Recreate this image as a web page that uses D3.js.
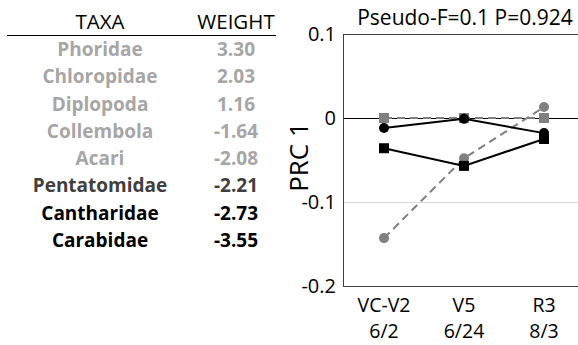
<!DOCTYPE html>
<html>
<head>
<meta charset="utf-8">
<script src="https://cdn.jsdelivr.net/npm/d3@7"></script>
<style>
  body { margin: 0; background: #fff; }
  svg { font-family: "Open Sans", sans-serif; }
</style>
</head>
<body>
<svg id="chart" width="578" height="345"></svg>
<script>
const width = 578;
const height = 345;

// table data
const taxa = ["Phoridae", "Chloropidae", "Diplopoda", "Collembola", "Acari", "Pentatomidae", "Cantharidae", "Carabidae"];
const weights = ["3.30", "2.03", "1.16", "-1.64", "-2.08", "-2.21", "-2.73", "-3.55"];
const rowColors = ["#a6a6a6", "#a6a6a6", "#a6a6a6", "#a6a6a6", "#a6a6a6", "#404040", "#000000", "#000000"];

// PRC data
const stages = ["VC-V2", "V5", "R3"];
const dates = ["6/2", "6/24", "8/3"];
const yTicks = [0.1, 0, -0.1, -0.2];
const graySquare = [0, 0, 0];
const grayCircle = [-0.143, -0.048, 0.013];
const blackCircle = [-0.012, -0.001, -0.018];
const blackSquare = [-0.036, -0.057, -0.025];

const series = [
  { values: graySquare, color: "#808080", dash: "8,5", shape: "square" },
  { values: grayCircle, color: "#808080", dash: "8,5", shape: "circle" },
  { values: blackSquare, color: "#000000", dash: null, shape: "square" },
  { values: blackCircle, color: "#000000", dash: null, shape: "circle" }
];

const margin = { top: 34, bottom: 59, left: 344, right: -6 };

const svg = d3.select("svg#chart");

/* TABLE */
const table = svg.append("g").attr("id", "table");
const nameX = 100;
const weightX = 236;

table.append("text").attr("x", nameX).attr("y", 29)
  .attr("text-anchor", "middle").attr("font-size", 20.5).text("TAXA");
table.append("text").attr("x", weightX).attr("y", 29)
  .attr("text-anchor", "middle").attr("font-size", 20.5).text("WEIGHT");
table.append("line")
  .attr("x1", 7).attr("x2", 276).attr("y1", 35.5).attr("y2", 35.5)
  .attr("stroke", "#000").attr("stroke-width", 1);

const rowY = d3.scalePoint().domain(taxa).range([56, 247]);

const rows = table.selectAll("g.row")
  .data(taxa)
  .enter()
  .append("g")
  .attr("class", "row")
  .attr("font-weight", "bold")
  .attr("font-size", 19)
  .attr("fill", (d, i) => rowColors[i]);

rows.append("text")
  .attr("x", nameX)
  .attr("y", d => rowY(d))
  .attr("text-anchor", "middle")
  .text(d => d);

rows.append("text")
  .attr("x", weightX)
  .attr("y", d => rowY(d))
  .attr("text-anchor", "middle")
  .text((d, i) => weights[i]);

/* PLOT */
const plotWidth = width - margin.left - margin.right;
const plotHeight = height - margin.top - margin.bottom;

const x = d3.scalePoint().domain(stages).range([0, plotWidth]).padding(0.5);
const y = d3.scaleLinear().domain([-0.2, 0.1]).range([plotHeight, 0]);

const plot = svg.append("g")
  .attr("transform", "translate(" + margin.left + "," + margin.top + ")");

// gridline at -0.1
plot.append("line")
  .attr("x1", 0).attr("x2", plotWidth)
  .attr("y1", Math.round(y(-0.1)) + 0.5).attr("y2", Math.round(y(-0.1)) + 0.5)
  .attr("stroke", "#d9d9d9");

// frame
plot.append("rect")
  .attr("x", -0.5).attr("y", 0.5)
  .attr("width", plotWidth).attr("height", plotHeight)
  .attr("fill", "none").attr("stroke", "#404040").attr("stroke-width", 1);

// zero line
plot.append("line")
  .attr("x1", 0).attr("x2", plotWidth)
  .attr("y1", Math.round(y(0)) + 0.5).attr("y2", Math.round(y(0)) + 0.5)
  .attr("stroke", "#000");

// y axis labels
const yAxis = d3.axisLeft(y).tickValues(yTicks).tickSize(0).tickPadding(8)
  .tickFormat(d => d === 0 ? "0" : String(d));
const yGroup = plot.append("g").call(yAxis);
yGroup.select(".domain").remove();
yGroup.selectAll("text").attr("font-size", 20).attr("fill", "#000")
  .attr("font-family", "'Open Sans', sans-serif");

// x axis labels
const xGroup = plot.append("g").attr("transform", "translate(0," + plotHeight + ")");
xGroup.selectAll("text.stage")
  .data(stages)
  .enter()
  .append("text")
  .attr("x", d => x(d))
  .attr("y", 26)
  .attr("text-anchor", "middle")
  .attr("font-size", 19.5)
  .text(d => d);
xGroup.selectAll("text.date")
  .data(dates)
  .enter()
  .append("text")
  .attr("x", (d, i) => x(stages[i]))
  .attr("y", 52)
  .attr("text-anchor", "middle")
  .attr("font-size", 19.5)
  .text(d => d);

// axis title
svg.append("text")
  .attr("transform", "translate(308,157) rotate(-90)")
  .attr("text-anchor", "middle")
  .attr("font-size", 26)
  .text("PRC 1");

// chart title
svg.append("text")
  .attr("x", 465).attr("y", 25)
  .attr("text-anchor", "middle")
  .attr("font-size", 21)
  .text("Pseudo-F=0.1 P=0.924");

// series
const line = d3.line().x((d, i) => x(stages[i])).y(d => y(d));

series.forEach(s => {
  plot.append("path")
    .datum(s.values)
    .attr("d", line)
    .attr("fill", "none")
    .attr("stroke", s.color)
    .attr("stroke-width", 2)
    .attr("stroke-dasharray", s.dash);

  const marks = plot.append("g").selectAll(s.shape === "square" ? "rect" : "circle")
    .data(s.values)
    .enter();
  if (s.shape === "square") {
    marks.append("rect")
      .attr("x", (d, i) => x(stages[i]) - 5)
      .attr("y", d => y(d) - 5)
      .attr("width", 10).attr("height", 10)
      .attr("fill", s.color);
  } else {
    marks.append("circle")
      .attr("cx", (d, i) => x(stages[i]))
      .attr("cy", d => y(d))
      .attr("r", 5)
      .attr("fill", s.color);
  }
});
</script>
</body>
</html>
